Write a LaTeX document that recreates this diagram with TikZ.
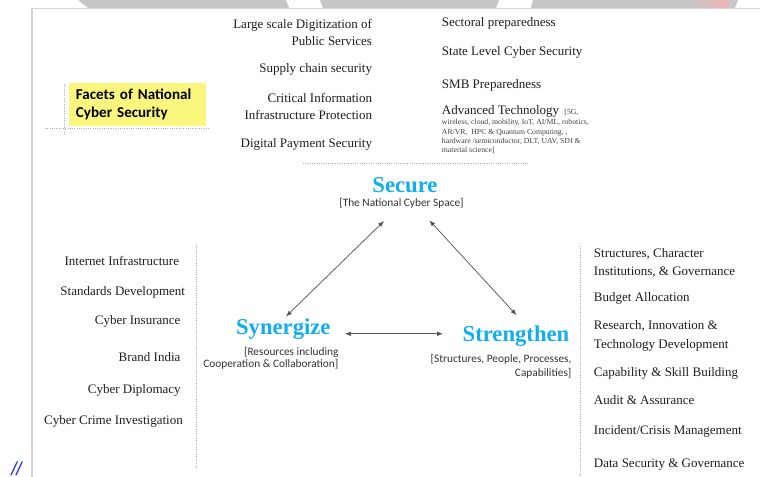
\documentclass[tikz,border=0pt]{standalone}
\usepackage{fontspec}
\setmainfont{Liberation Serif}
\newfontfamily\capfont{Carlito}
\newfontfamily\slashfont{Liberation Sans}
\usetikzlibrary{arrows.meta}

\definecolor{bandgray}{HTML}{C6C6C6}
\definecolor{bandpink}{HTML}{F2B4B4}
\definecolor{framegray}{HTML}{D4D4D4}
\definecolor{inkgray}{HTML}{1E1E1E}
\definecolor{smallink}{HTML}{404040}
\definecolor{captext}{HTML}{333333}
\definecolor{skyblue}{HTML}{12AEEC}
\definecolor{guidegray}{HTML}{AFAFAF}
\definecolor{linkgray}{HTML}{555555}
\definecolor{facetyellow}{HTML}{FAF67E}
\definecolor{slashblue}{HTML}{2323F5}

\begin{document}
\begin{tikzpicture}[
  x=0.75pt, y=-0.75pt,
  item/.style={inner sep=0pt, text=inkgray, font=\fontsize{9.75}{11}\selectfont},
  itemR/.style={item, anchor=base east},
  itemL/.style={item, anchor=base west},
  techsmall/.style={inner sep=0pt, text=smallink, anchor=base west,
    font=\fontsize{5.8}{6.9}\selectfont},
  pillar/.style={inner sep=0pt, text=skyblue, anchor=base,
    font=\bfseries\fontsize{17}{20}\selectfont},
  caption/.style={inner sep=0pt, text=captext,
    font=\capfont\fontsize{8.5}{10}\selectfont},
  facet/.style={fill=facetyellow, inner sep=0pt, minimum width=102.5pt,
    minimum height=32.5pt, text width=92.5pt, align=left, text=black,
    font=\capfont\bfseries\fontsize{11.3}{13.7}\selectfont},
  guide/.style={draw=guidegray, line width=0.6pt, dash pattern=on 0.6pt off 1.1pt},
  link/.style={draw=linkgray, line width=0.55pt,
    {Latex[length=4.5pt,width=3.4pt]}-{Latex[length=4.5pt,width=3.4pt]}}
]
\useasboundingbox (0,0) rectangle (760,477);

% header band of the slide
\fill[bandgray] (78,0) -- (286,0) -- (289,7.8) -- (88,7.8) -- cycle;
\fill[bandgray] (320,0) -- (499,0) -- (496,7.8) -- (323,7.8) -- cycle;
\fill[bandgray] (533,0) -- (738,0) -- (735,7.8) -- (531,7.8) -- cycle;
\shade[left color=bandgray, right color=bandpink] (690,0) -- (729,0) -- (727,7.8) -- (690,7.8) -- cycle;

% page frame
\draw[framegray, line width=1pt] (32,478) -- (32,8.7) -- (761,8.7);

% title box
\node[facet] (facets) at (137.65,104.5) {Facets of National\\Cyber Security};
\draw[guide] (64.3,84) -- (64.3,134.3);
\draw[guide] (45,128.3) -- (208.3,128.3);

% facets, upper middle column
\node[itemR] (digA) at (372.3,28.3) {Large scale Digitization of};
\node[itemR] (digB) at (372.3,45.7) {Public Services};
\node[itemR] (supply) at (372.3,72.3) {Supply chain security};
\node[itemR] (ciiA) at (372.3,102.7) {Critical Information};
\node[itemR] (ciiB) at (372.3,120) {Infrastructure Protection};
\node[itemR] (payment) at (372.3,147.3) {Digital Payment Security};

% facets, upper right column
\node[itemL] (sectoral) at (441.7,26.7) {Sectoral preparedness};
\node[itemL] (state) at (441.7,55.7) {State Level Cyber Security};
\node[itemL] (smb) at (441.7,88.3) {SMB Preparedness};
\node[itemL] (advtech) at (441.7,115) {Advanced Technology\hspace{4pt}{\color{smallink}\fontsize{5.8}{6.9}\selectfont[5G,}};
\node[techsmall] (advA) at (441.7,125) {wireless, cloud, mobility, IoT, AI/ML, robotics,};
\node[techsmall] (advB) at (441.7,134.3) {AR/VR,\ \ HPC \& Quantum Computing, ,};
\node[techsmall] (advC) at (441.7,143.3) {hardware /semiconductor, DLT, UAV, SDI \&};
\node[techsmall] (advD) at (441.7,152.7) {material science]};
\draw[guide] (303,163) -- (528,163);

% the three pillars
\node[pillar] (secure) at (405,192.3) {Secure};
\node[caption, anchor=base] (securesub) at (401.5,206.5) {[The National Cyber Space]};

\node[pillar] (syn) at (283.3,334.5) {Synergize};
\node[caption, anchor=base east] (synsubA) at (338.7,355) {[Resources including};
\node[caption, anchor=base east] (synsubB) at (338.7,367) {Cooperation \& Collaboration]};

\node[pillar] (str) at (516,341.7) {Strengthen};
\node[caption, anchor=base east] (strsubA) at (571.7,362.7) {[Structures, People, Processes,};
\node[caption, anchor=base east] (strsubB) at (571.7,376) {Capabilities]};

% links between the pillars
\draw[link] ([xshift=-13.1pt,yshift=-9.3pt]securesub.south) -- ([xshift=2pt,yshift=1.5pt]syn.north);
\draw[link] ([xshift=20.9pt,yshift=-8.8pt]securesub.south) -- ([xshift=0.4pt,yshift=7.9pt]str.north);
\coordinate (hL) at ([xshift=10.5pt,yshift=-3.5pt]syn.east);
\coordinate (hR) at ([xshift=-14.5pt]str.west);
\draw[link] (hL) -- (hL -| hR);

% left column
\draw[guide] (196.7,245) -- (196.7,469);
\node[itemR] (internet) at (179.3,266) {Internet Infrastructure};
\node[itemR] (standards) at (185.3,295.3) {Standards Development};
\node[itemR] (insurance) at (180.7,324) {Cyber Insurance};
\node[itemR] (brand) at (180.7,361.3) {Brand India};
\node[itemR] (diplomacy) at (181,393.3) {Cyber Diplomacy};
\node[itemR] (crime) at (183,424.7) {Cyber Crime Investigation};

% right column
\draw[guide] (580.3,246) -- (580.3,477);
\node[itemL] (structA) at (593.7,257.3) {Structures, Character};
\node[itemL] (structB) at (593.7,275.3) {Institutions, \& Governance};
\node[itemL] (budget) at (593.7,301.3) {Budget Allocation};
\node[itemL] (researchA) at (593.7,329.3) {Research, Innovation \&};
\node[itemL] (researchB) at (593.7,348) {Technology Development};
\node[itemL] (skill) at (593.7,376.7) {Capability \& Skill Building};
\node[itemL] (audit) at (593.7,404) {Audit \& Assurance};
\node[itemL] (incident) at (593.7,434) {Incident/Crisis Management};
\node[itemL] (datasec) at (593.7,467.3) {Data Security \& Governance};

% slide marker
\node[inner sep=0pt, anchor=base west, text=slashblue, font=\slashfont\itshape\fontsize{14}{16}\selectfont] (marker) at (11,475) {//};
\end{tikzpicture}
\end{document}
